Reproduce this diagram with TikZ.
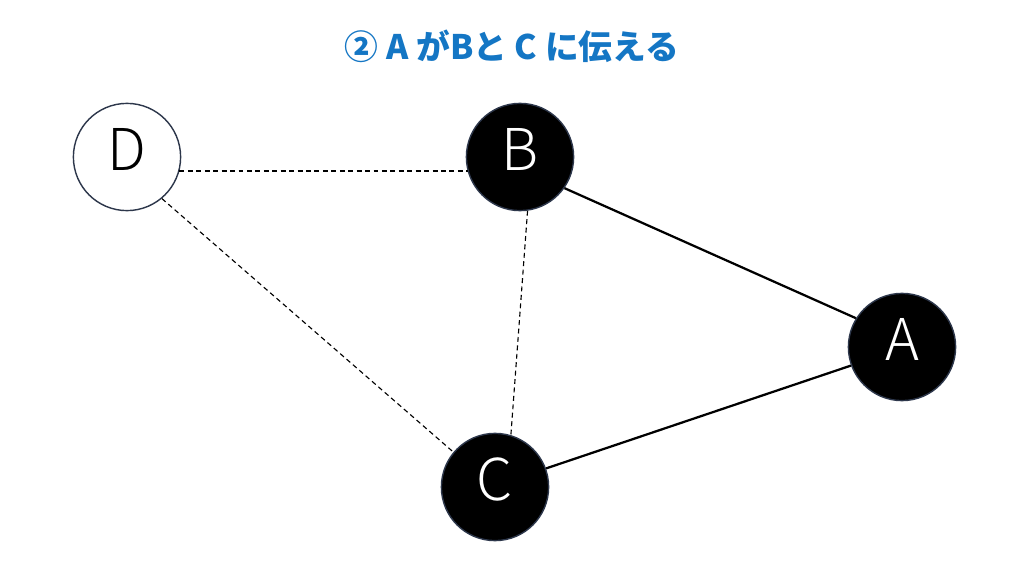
\documentclass[tikz,border=0pt]{standalone}
\usepackage{fontspec}
\setmainfont{Noto Sans CJK JP}
\newfontfamily\lightfont{Noto Sans CJK JP Light}
\usetikzlibrary{positioning}
\definecolor{titleblue}{RGB}{20,118,196}
\definecolor{rim}{RGB}{45,55,75}
\tikzstyle{peer}=[
	circle,
	draw=rim,
	line width=1pt,
	minimum size=2.68cm,
	inner sep=0pt,
	text height=30pt,
	text depth=11pt,
	font=\lightfont\fontsize{41}{41}\selectfont
]
\tikzstyle{told}=[peer, fill=black, text=white]
\tikzstyle{waiting}=[peer, fill=white, text=black]
\tikzstyle{link}=[
	line width=1.6pt,
	draw=black
]
\tikzstyle{maybe}=[
	line width=0.8pt,
	dash pattern=on 3.5pt off 2.5pt
]

\begin{document}
\begin{tikzpicture}[x=0.025cm, y=-0.025cm]
\useasboundingbox (0,0) rectangle (1024,576);
\node [font=\bfseries\fontsize{24}{24}\selectfont, text=titleblue] (Title) at (512,46) {② A がBと C に伝える};
\node [waiting] (D) at (127,157) {D};
\node [told] (B) at (520,157) {B};
\node [told] (A) at (902,347) {A};
\node [told] (C) at (495,487) {C};
\draw [maybe] (D.-15) -- (B.195);
\draw [maybe] (D.-50) -- (C.140);
\draw [maybe] (B.-82) -- (C.73);
\draw [link] (B.-35) -- (A.148);
\draw [link] (C.20) -- (A.200);
\end{tikzpicture}
\end{document}
